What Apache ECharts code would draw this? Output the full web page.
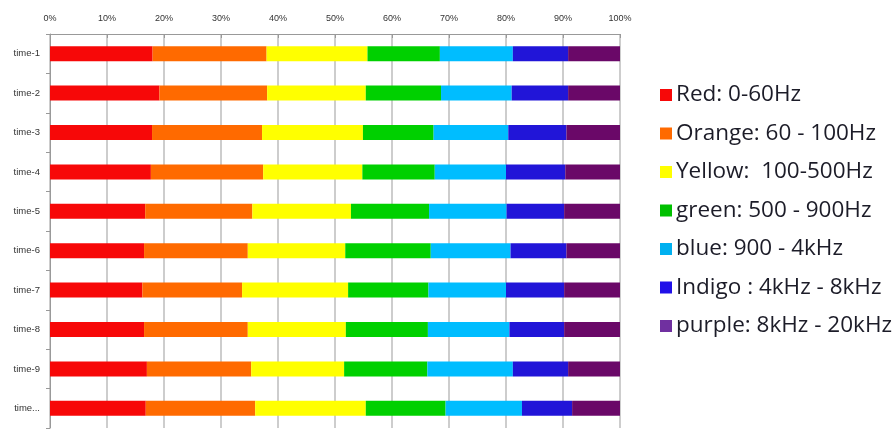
<!DOCTYPE html>
<html><head><meta charset="utf-8">
<script src="https://cdn.jsdelivr.net/npm/echarts@6/dist/echarts.min.js"></script>
<style>html,body{margin:0;padding:0;background:#fff}#c{width:896px;height:429px}</style>
</head><body><div id="c"></div>
<script>
const categories = ['time-1','time-2','time-3','time-4','time-5','time-6','time-7','time-8','time-9','time-10'];
const seriesNames = ['Red: 0-60Hz','Orange: 60 - 100Hz','Yellow:  100-500Hz','green: 500 - 900Hz','blue: 900 - 4kHz','Indigo : 4kHz - 8kHz','purple: 8kHz - 20kHz'];
const red    = [18.0,19.2,17.9,17.7,16.7,16.5,16.2,16.5,17.0,16.8];
const orange = [20.0,18.9,19.3,19.7,18.8,18.2,17.5,18.2,18.3,19.2];
const yellow = [17.7,17.3,17.7,17.4,17.3,17.1,18.6,17.2,16.3,19.4];
const green  = [12.7,13.2,12.4,12.7,13.7,15.0,14.1,14.4,14.6,14.0];
const blue   = [12.8,12.4,13.1,12.5,13.6,14.0,13.6,14.3,15.0,13.4];
const indigo = [9.7,9.9,10.2,10.4,10.1,9.8,10.2,9.6,9.7,8.8];
const purple = [9.1,9.1,9.4,9.6,9.8,9.4,9.8,9.8,9.1,8.4];
const xTicks = ['0%','10%','20%','30%','40%','50%','60%','70%','80%','90%','100%'];
const colors = ['#f70808','#ff6a00','#ffff00','#00d000','#00bdff','#2115d8','#6a0868'];
const legendColors = ['#f70808','#ff6a00','#ffff00','#00c000','#00b0f0','#2010e8','#7030a0'];
const values = [red,orange,yellow,green,blue,indigo,purple];

const chart = echarts.init(document.getElementById('c'));
chart.setOption({
  animation:false,
  grid:{left:50,right:276,top:34,bottom:1},
  legend:{
    orient:'vertical', left:655, top:78,
    itemWidth:12, itemHeight:12, itemGap:14.5,
    icon:'rect',
    textStyle:{fontFamily:'Open Sans',fontSize:22.5,color:'#1c1c28',lineHeight:24,padding:[0,0,0,-1]},
    data: seriesNames.map((n,i)=>({name:n,itemStyle:{color:legendColors[i]}}))
  },
  xAxis:{
    type:'value', position:'top', min:0, max:100, interval:10,
    axisLine:{show:true,lineStyle:{color:'#999'}},
    axisTick:{show:true,inside:true,length:4,lineStyle:{color:'#999'}},
    splitLine:{show:true,lineStyle:{color:'#bdbdbd',width:1.5}},
    axisLabel:{fontFamily:'Liberation Sans',fontSize:9,color:'#333',margin:11,
      formatter:(v)=>xTicks[Math.round(v/10)]}
  },
  yAxis:{
    type:'category', data:categories, inverse:true,
    axisLine:{show:true,lineStyle:{color:'#999'}},
    axisTick:{show:true,length:4,lineStyle:{color:'#999'}},
    axisLabel:{fontFamily:'Liberation Sans',fontSize:9.5,color:'#333',margin:10,
      formatter:(v)=> v==='time-10' ? 'time...' : v}
  },
  series: values.map((d,i)=>({
    name:seriesNames[i], type:'bar', stack:'all', data:d, barWidth:15,
    itemStyle:{color:colors[i]}
  }))
});
</script></body></html>
